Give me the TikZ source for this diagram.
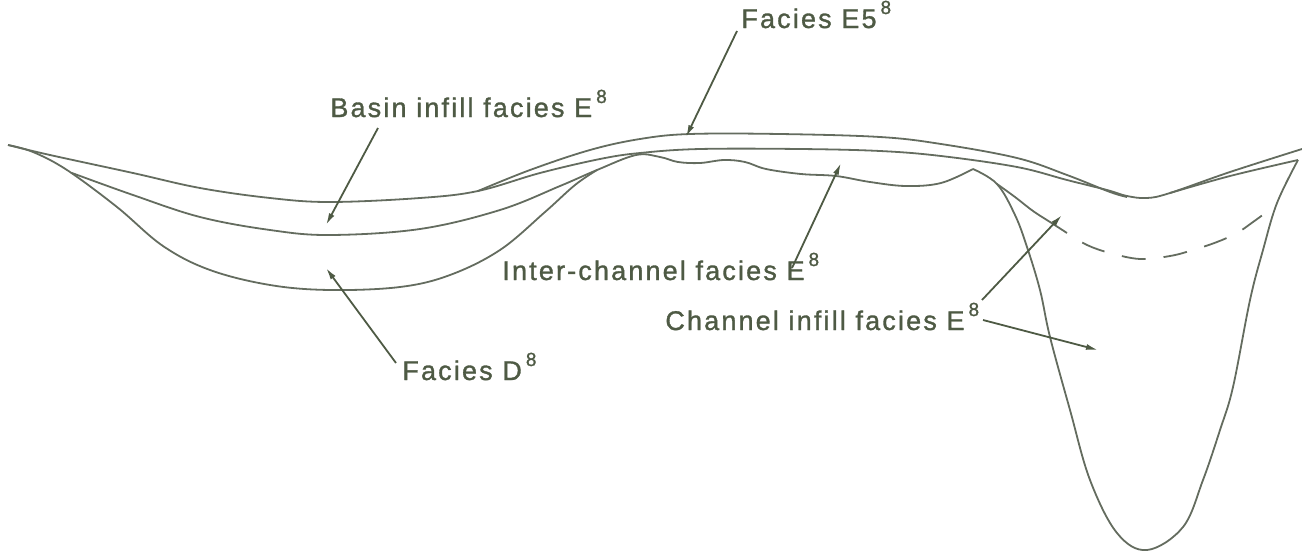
\documentclass[tikz,border=0pt]{standalone}
\usepackage{fontspec}
\usetikzlibrary{arrows.meta}
\newfontfamily\labelfont[LetterSpace=8,FakeBold=1.2]{Liberation Sans}
\definecolor{inkline}{RGB}{100,108,95}
\definecolor{inktext}{RGB}{78,90,68}
% raised index after a facies letter
\newcommand{\facsup}[1]{\hspace{2pt}\raisebox{7pt}{\fontsize{9.5}{9.5}\selectfont #1}}
\tikzset{
    horizon/.style={line width=0.9pt,inkline,line join=round},
    leader/.style={line width=0.9pt,inktext,-{Latex[length=6pt,width=3pt]}},
    faciesname/.style={inktext,font=\labelfont\fontsize{13.5}{16}\selectfont,inner sep=0pt,anchor=base west},
}

\begin{document}
\begin{tikzpicture}[x=0.5pt,y=-0.5pt]
    \useasboundingbox (0,0) rectangle (1302,552);
    % Upper surface: left basin, base of E5, across the channel top
    \draw[horizon] plot[smooth,tension=0.6] coordinates {(8,145) (50,155) (133,173) (200,188) (270,198) (330,202) (420,198) (478,191) (540,173) (600,159) (640,153) (700,149) (800,149) (880,151) (941,156) (1017,167) (1067,180) (1107,190) (1127,196) (1147,198) (1170,193) (1230,172) (1302,149)};
    % Top of facies E5
    \draw[horizon] plot[smooth,tension=0.6] coordinates {(478,191) (530,170) (590,150) (640,139) (690,134) (780,134) (880,137) (941,144) (1017,158) (1067,175) (1110,192) (1127,197)};
    % Lower line towards the channel rim
    \draw[horizon] plot[smooth,tension=0.6] coordinates {(1170,193) (1230,176) (1298,160)};
    % Base of basin infill, then the wavy inter-channel top
    \draw[horizon] plot[smooth,tension=0.6] coordinates {(72,173) (133,195) (200,217) (270,230) (330,235) (420,229) (500,210) (560,186) (597,170) (636,155) (660,157) (678,162) (700,163) (724,160) (745,162) (766,169) (801,174) (836,176) (870,182) (906,186) (941,183) (973,169)};
    % Base of facies D
    \draw[horizon] plot[smooth,tension=0.6] coordinates {(8,145) (33,152) (67,170) (117,207) (163,246) (210,270) (270,285) (330,290) (400,287) (450,275) (500,250) (545,212) (575,185) (597,170)};
    % Channel walls
    \draw[horizon] plot[smooth,tension=0.6] coordinates {(973,169) (997,184) (1015,215) (1027,247) (1040,290) (1050,337) (1070,410) (1090,480) (1117,533) (1147,550) (1183,527) (1203,480) (1220,430) (1233,387) (1250,300) (1263,250) (1277,203) (1298,160)};
    % Channel infill boundary, solid then dashed
    \draw[horizon] plot[smooth,tension=0.6] coordinates {(997,184) (1015,197) (1033,211) (1050,222) (1067,233)};
    \draw[horizon,dash pattern=on 12pt off 9pt,dash phase=12pt] plot[smooth,tension=0.6] coordinates {(1067,233) (1087,245) (1110,253) (1140,259) (1170,256) (1193,250) (1217,242) (1237,233) (1253,222) (1275,206)};

    % Labels
    \node[faciesname] (e5lbl) at (741,28) {Facies E5\facsup{8}};
    \node[faciesname] (basinlbl) at (330,117) {Basin infill facies E\facsup{8}};
    \node[faciesname] (interlbl) at (502,280) {Inter-channel facies E\facsup{8}};
    \node[faciesname] (chanlbl) at (665,330) {Channel infill facies E\facsup{8}};
    \node[faciesname] (dlbl) at (402,380) {Facies D\facsup{8}};

    % Leader ends
    \coordinate (e5from) at (737,31);      \coordinate (e5to) at (686,137);
    \coordinate (basinfrom) at (378,128);  \coordinate (basinto) at (326,225);
    \coordinate (interfrom) at (792,268);  \coordinate (interto) at (841,163);
    \coordinate (chanfrom) at (982,300);   \coordinate (chanto) at (1062,215);
    \coordinate (chanfromb) at (983,320);  \coordinate (chantob) at (1098,350);
    \coordinate (dfrom) at (396,363);      \coordinate (dto) at (326,268);

    % Leaders
    \draw[leader] (e5from) -- (e5to);
    \draw[leader] (basinfrom) -- (basinto);
    \draw[leader] (interfrom) -- (interto);
    \draw[leader] (chanfrom) -- (chanto);
    \draw[leader] (chanfromb) -- (chantob);
    \draw[leader] (dfrom) -- (dto);
\end{tikzpicture}
\end{document}
